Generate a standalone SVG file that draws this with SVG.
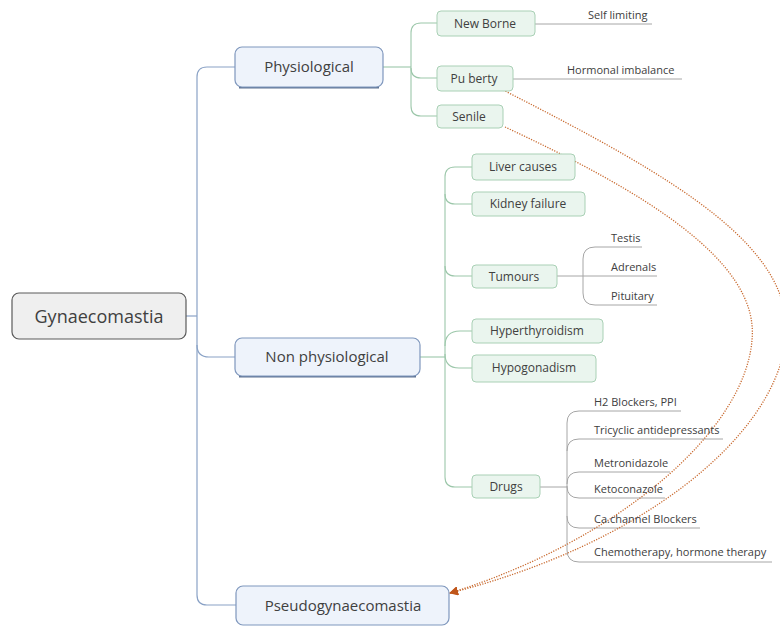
<svg xmlns="http://www.w3.org/2000/svg" width="780" height="627" viewBox="0 0 780 627">
<style>
text{font-family:"Open Sans","DejaVu Sans",sans-serif;fill:#404040}
.root rect{fill:#efefef;stroke:#5a5a5a;stroke-width:1.2}
.main rect{fill:#eef3fb;stroke:#7f97bd;stroke-width:1.2}
.main .sh{fill:none;stroke:#5f7392;stroke-width:2}
.sub rect{fill:#eaf5ee;stroke:#a9d0b5;stroke-width:1}
.blue{fill:none;stroke:#8aa2c6;stroke-width:1.2}
.green{fill:none;stroke:#9cc7aa;stroke-width:1.1}
.grey{fill:none;stroke:#a6a6a6;stroke-width:1}
.rel{fill:none;stroke:#c8692e;stroke-width:1.3;stroke-dasharray:1.2 1.4}
.t18{font-size:18px}.t15{font-size:15px}.t12{font-size:12px}.t11{font-size:11px}
</style>
<defs>
<marker id="arr" viewBox="0 0 10 10" refX="9" refY="5" markerWidth="9" markerHeight="9" orient="auto" markerUnits="userSpaceOnUse">
<path d="M0,0 L10,5 L0,10 z" fill="#c0561a"/>
</marker>
</defs>
<rect width="780" height="627" fill="#ffffff"/>
<g id="connectors">
<path class="blue" d="M186,316 H197"/>
<path class="blue" d="M235,67 H207 Q197,67 197,77 V595 Q197,605 207,605 H236"/>
<path class="blue" d="M197,345 Q197,357 209,357 H235"/>
<path class="green" d="M383,67 H411"/>
<path class="green" d="M437,23 H421 Q411,23 411,33 V106 Q411,116 421,116 H437"/>
<path class="green" d="M411,68 Q411,78 421,78 H437"/>
<path class="green" d="M420,357 H445"/>
<path class="green" d="M472,167 H455 Q445,167 445,177 V477 Q445,487 455,487 H472"/>
<path class="green" d="M445,194 Q445,204 455,204 H472"/>
<path class="green" d="M445,266 Q445,276 455,276 H472"/>
<path class="green" d="M445,346 Q445,331 460,331 H472"/>
<path class="green" d="M445,354 Q445,368 459,368 H472"/>
<path class="grey" d="M535,24 H652"/>
<path class="grey" d="M513,79 H682"/>
<path class="grey" d="M557,276 H657"/>
<path class="grey" d="M642,247 H595 Q583,247 583,259 V293 Q583,305 595,305 H657"/>
<path class="grey" d="M540,487 H567"/>
<path class="grey" d="M681,411 H579 Q567,411 567,423 V550 Q567,562 579,562 H772"/>
<path class="grey" d="M567,451 Q567,439 579,439 H723"/>
<path class="grey" d="M567,484 Q567,472 579,472 H670"/>
<path class="grey" d="M567,486 Q567,498 579,498 H665"/>
<path class="grey" d="M567,516 Q567,528 579,528 H700"/>
<path class="rel" d="M503,90 C680,180 800,250 785,345 C770,440 640,545 450,593" marker-end="url(#arr)"/>
<path class="rel" d="M505,127 C640,190 760,260 752,340 C745,430 620,540 450,593" marker-end="url(#arr)"/>
</g>
<g id="gynaecomastia" class="root">
<rect x="12" y="293" width="174" height="46" rx="7"/>
<text class="t18" x="99" y="323" text-anchor="middle">Gynaecomastia</text>
</g>
<g id="physiological" class="main">
<path class="sh" d="M239,87.5 H379"/>
<rect x="235" y="47" width="148" height="40" rx="7"/>
<text class="t15" x="309" y="72" text-anchor="middle">Physiological</text>
</g>
<g id="non-physiological" class="main">
<path class="sh" d="M239,376.5 H416"/>
<rect x="235" y="338" width="185" height="38" rx="7"/>
<text class="t15" x="327" y="362" text-anchor="middle">Non physiological</text>
</g>
<g id="pseudogynaecomastia" class="main">
<rect x="236" y="586" width="213" height="39" rx="7"/>
<text class="t15" x="343" y="611" text-anchor="middle">Pseudogynaecomastia</text>
</g>
<g id="new-borne" class="sub">
<rect x="437" y="11" width="98" height="25" rx="4"/>
<text class="t12" x="485" y="28" text-anchor="middle">New Borne</text>
</g>
<g id="puberty" class="sub">
<rect x="437" y="66" width="76" height="25" rx="4"/>
<text class="t12" x="474" y="83" text-anchor="middle">Pu berty</text>
</g>
<g id="senile" class="sub">
<rect x="437" y="105" width="66" height="23" rx="4"/>
<text class="t12" x="469" y="121" text-anchor="middle">Senile</text>
</g>
<g id="self-limiting"><text class="t11" x="588" y="19">Self limiting</text></g>
<g id="hormonal-imbalance"><text class="t11" x="567" y="74">Hormonal imbalance</text></g>
<g id="liver-causes" class="sub">
<rect x="472" y="154" width="103" height="26" rx="4"/>
<text class="t12" x="523" y="171" text-anchor="middle">Liver causes</text>
</g>
<g id="kidney-failure" class="sub">
<rect x="472" y="192" width="113" height="24" rx="4"/>
<text class="t12" x="528" y="208" text-anchor="middle">Kidney failure</text>
</g>
<g id="tumours" class="sub">
<rect x="472" y="265" width="85" height="23" rx="4"/>
<text class="t12" x="514" y="281" text-anchor="middle">Tumours</text>
</g>
<g id="testis"><text class="t11" x="611" y="242">Testis</text></g>
<g id="adrenals"><text class="t11" x="611" y="271">Adrenals</text></g>
<g id="pituitary"><text class="t11" x="611" y="300">Pituitary</text></g>
<g id="hyperthyroidism" class="sub">
<rect x="472" y="319" width="131" height="24" rx="4"/>
<text class="t12" x="537" y="335" text-anchor="middle">Hyperthyroidism</text>
</g>
<g id="hypogonadism" class="sub">
<rect x="472" y="355" width="124" height="27" rx="4"/>
<text class="t12" x="534" y="372" text-anchor="middle">Hypogonadism</text>
</g>
<g id="drugs" class="sub">
<rect x="472" y="475" width="68" height="23" rx="4"/>
<text class="t12" x="506" y="491" text-anchor="middle">Drugs</text>
</g>
<g id="h2-blockers"><text class="t11" x="594" y="406">H2 Blockers, PPI</text></g>
<g id="tricyclic"><text class="t11" x="594" y="434">Tricyclic antidepressants</text></g>
<g id="metronidazole"><text class="t11" x="594" y="467">Metronidazole</text></g>
<g id="ketoconazole"><text class="t11" x="594" y="493">Ketoconazole</text></g>
<g id="ca-channel"><text class="t11" x="594" y="523">Ca.channel Blockers</text></g>
<g id="chemotherapy"><text class="t11" x="594" y="556">Chemotherapy, hormone therapy</text></g>
</svg>
